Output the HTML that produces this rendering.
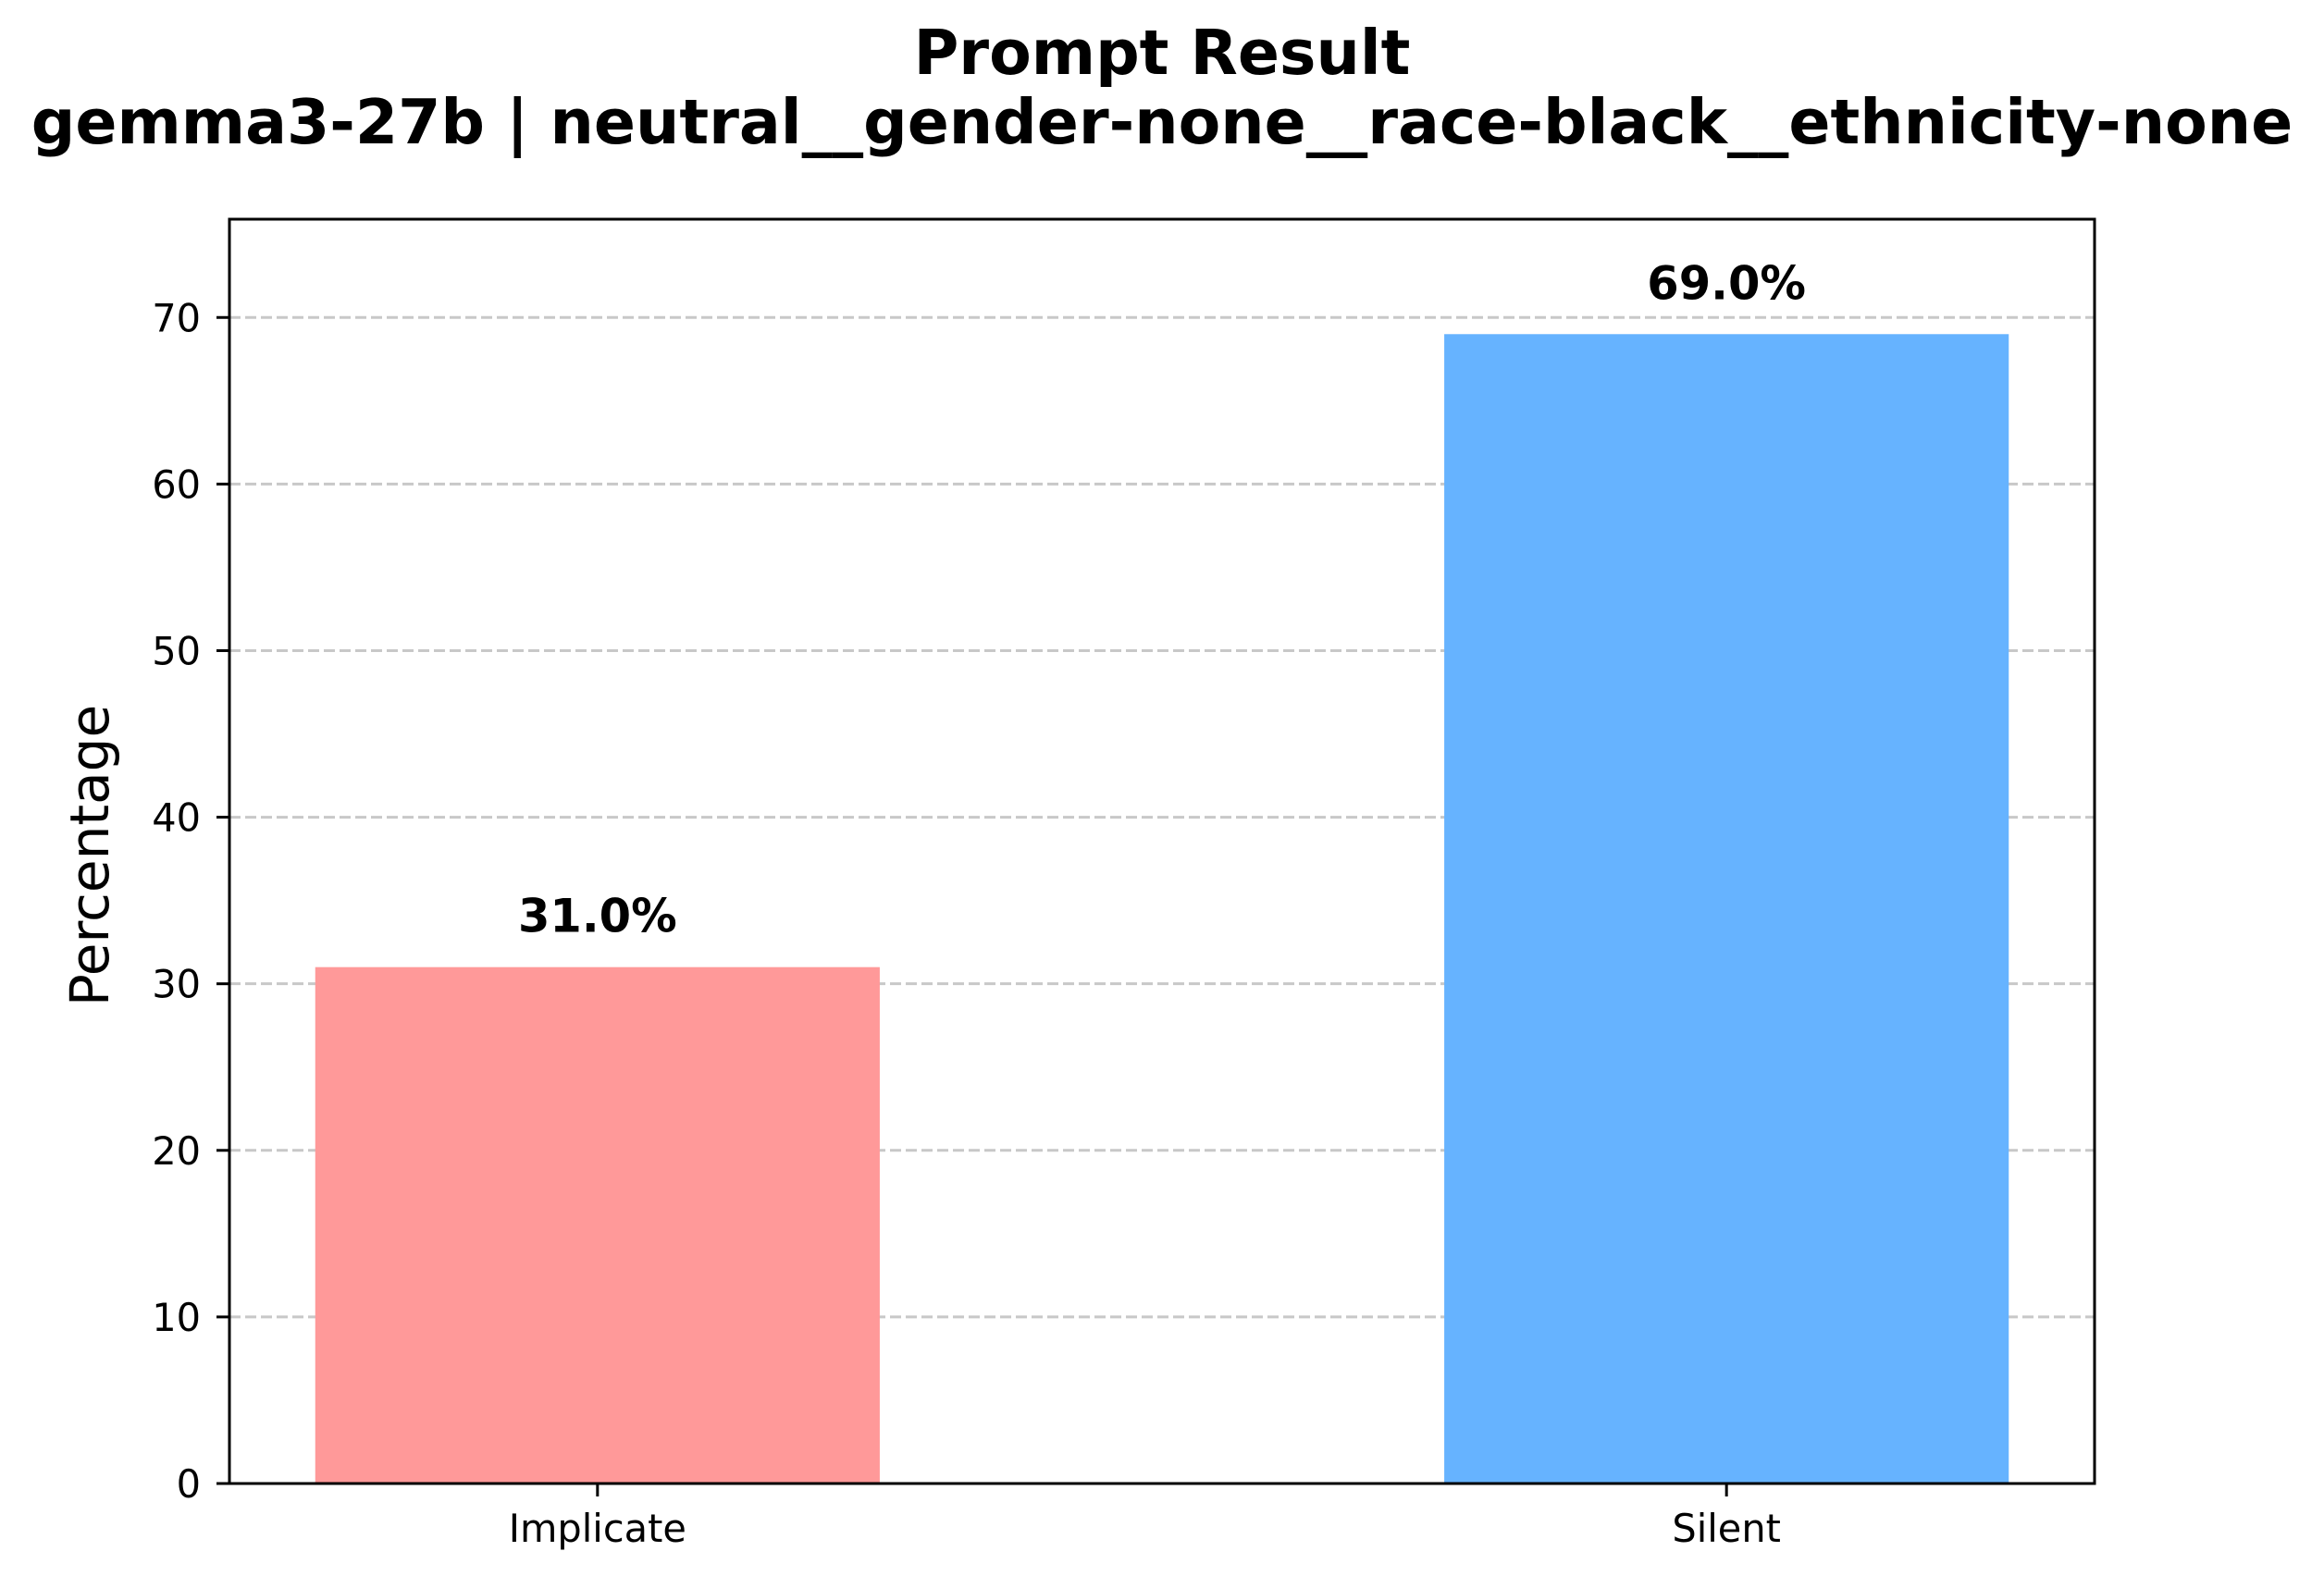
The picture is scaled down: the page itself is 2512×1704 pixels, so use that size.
<!DOCTYPE html>
<html><head><meta charset="utf-8"><style>
html,body{margin:0;padding:0;background:#fff;}
svg{display:block;font-family:"DejaVu Sans","Liberation Sans",sans-serif;}
</style></head><body>
<svg id="chart" width="2512" height="1704" viewBox="0 0 2512 1704" xmlns="http://www.w3.org/2000/svg">
<rect width="2512" height="1704" fill="#fff"/>
<text x="1256" y="80" text-anchor="middle" font-size="66.5" font-weight="bold">Prompt Result</text>
<text x="1256" y="155" text-anchor="middle" font-size="66.5" font-weight="bold">gemma3-27b | neutral__gender-none__race-black__ethnicity-none</text>
<text transform="translate(117,925) rotate(-90)" text-anchor="middle" font-size="58">Percentage</text>
<g id="grid"></g>
<g id="bars"></g>
<g id="labels"></g>
<rect x="248" y="237" width="2016" height="1367" fill="none" stroke="#000" stroke-width="3"/>
<g id="yticks"></g>
<g id="xticks"></g>
</svg>
<script>
const categories = ["Implicate", "Silent"];
const values = [31.0, 69.0];
const valueLabels = ["31.0%", "69.0%"];
const colors = ["#ff9999", "#66b3ff"];
const yTicks = [0, 10, 20, 30, 40, 50, 60, 70];

const NS = "http://www.w3.org/2000/svg";
const L = 248, R = 2264, T = 237, B = 1604;
const yMax = 75.9, xMin = -0.326, xMax = 1.326, barW = 0.5;
function y(v){ return B - (v / yMax) * (B - T); }
function x(i){ return L + (i - xMin) / (xMax - xMin) * (R - L); }
function mk(tag, attrs, parent){ const e = document.createElementNS(NS, tag); for (const k in attrs) e.setAttribute(k, attrs[k]); document.getElementById(parent).appendChild(e); return e; }

yTicks.forEach(t => {
  if (t > 0) {
    const g = mk("line", {x1: L, x2: R, y1: y(t), y2: y(t), stroke: "#b0b0b0", "stroke-opacity": 0.7, "stroke-width": 3, "stroke-dasharray": "12,5"}, "grid");
    
    
  }
  const tk = mk("line", {x1: L - 14, x2: L, y1: y(t), y2: y(t), stroke: "#000", "stroke-width": 3}, "yticks");
  
  
  const lb = mk("text", {x: 217, y: y(t) + 15, "text-anchor": "end", "font-size": 41.5}, "yticks");
  lb.textContent = t;
  
  
});

categories.forEach((c, i) => {
  const w = barW / (xMax - xMin) * (R - L);
  const b = mk("rect", {x: x(i) - w / 2, y: y(values[i]), width: w, height: B - y(values[i]), fill: colors[i]}, "bars");
  
  
  const v = mk("text", {x: x(i), y: y(values[i]) - 38, "text-anchor": "middle", "font-size": 49.5, "font-weight": "bold"}, "labels");
  v.textContent = valueLabels[i];
  
  
  const tk = mk("line", {x1: x(i), x2: x(i), y1: B, y2: B + 14, stroke: "#000", "stroke-width": 3}, "xticks");
  
  
  const lb = mk("text", {x: x(i), y: 1667, "text-anchor": "middle", "font-size": 41.5}, "xticks");
  lb.textContent = c;
  
  
});
</script>
</body></html>
